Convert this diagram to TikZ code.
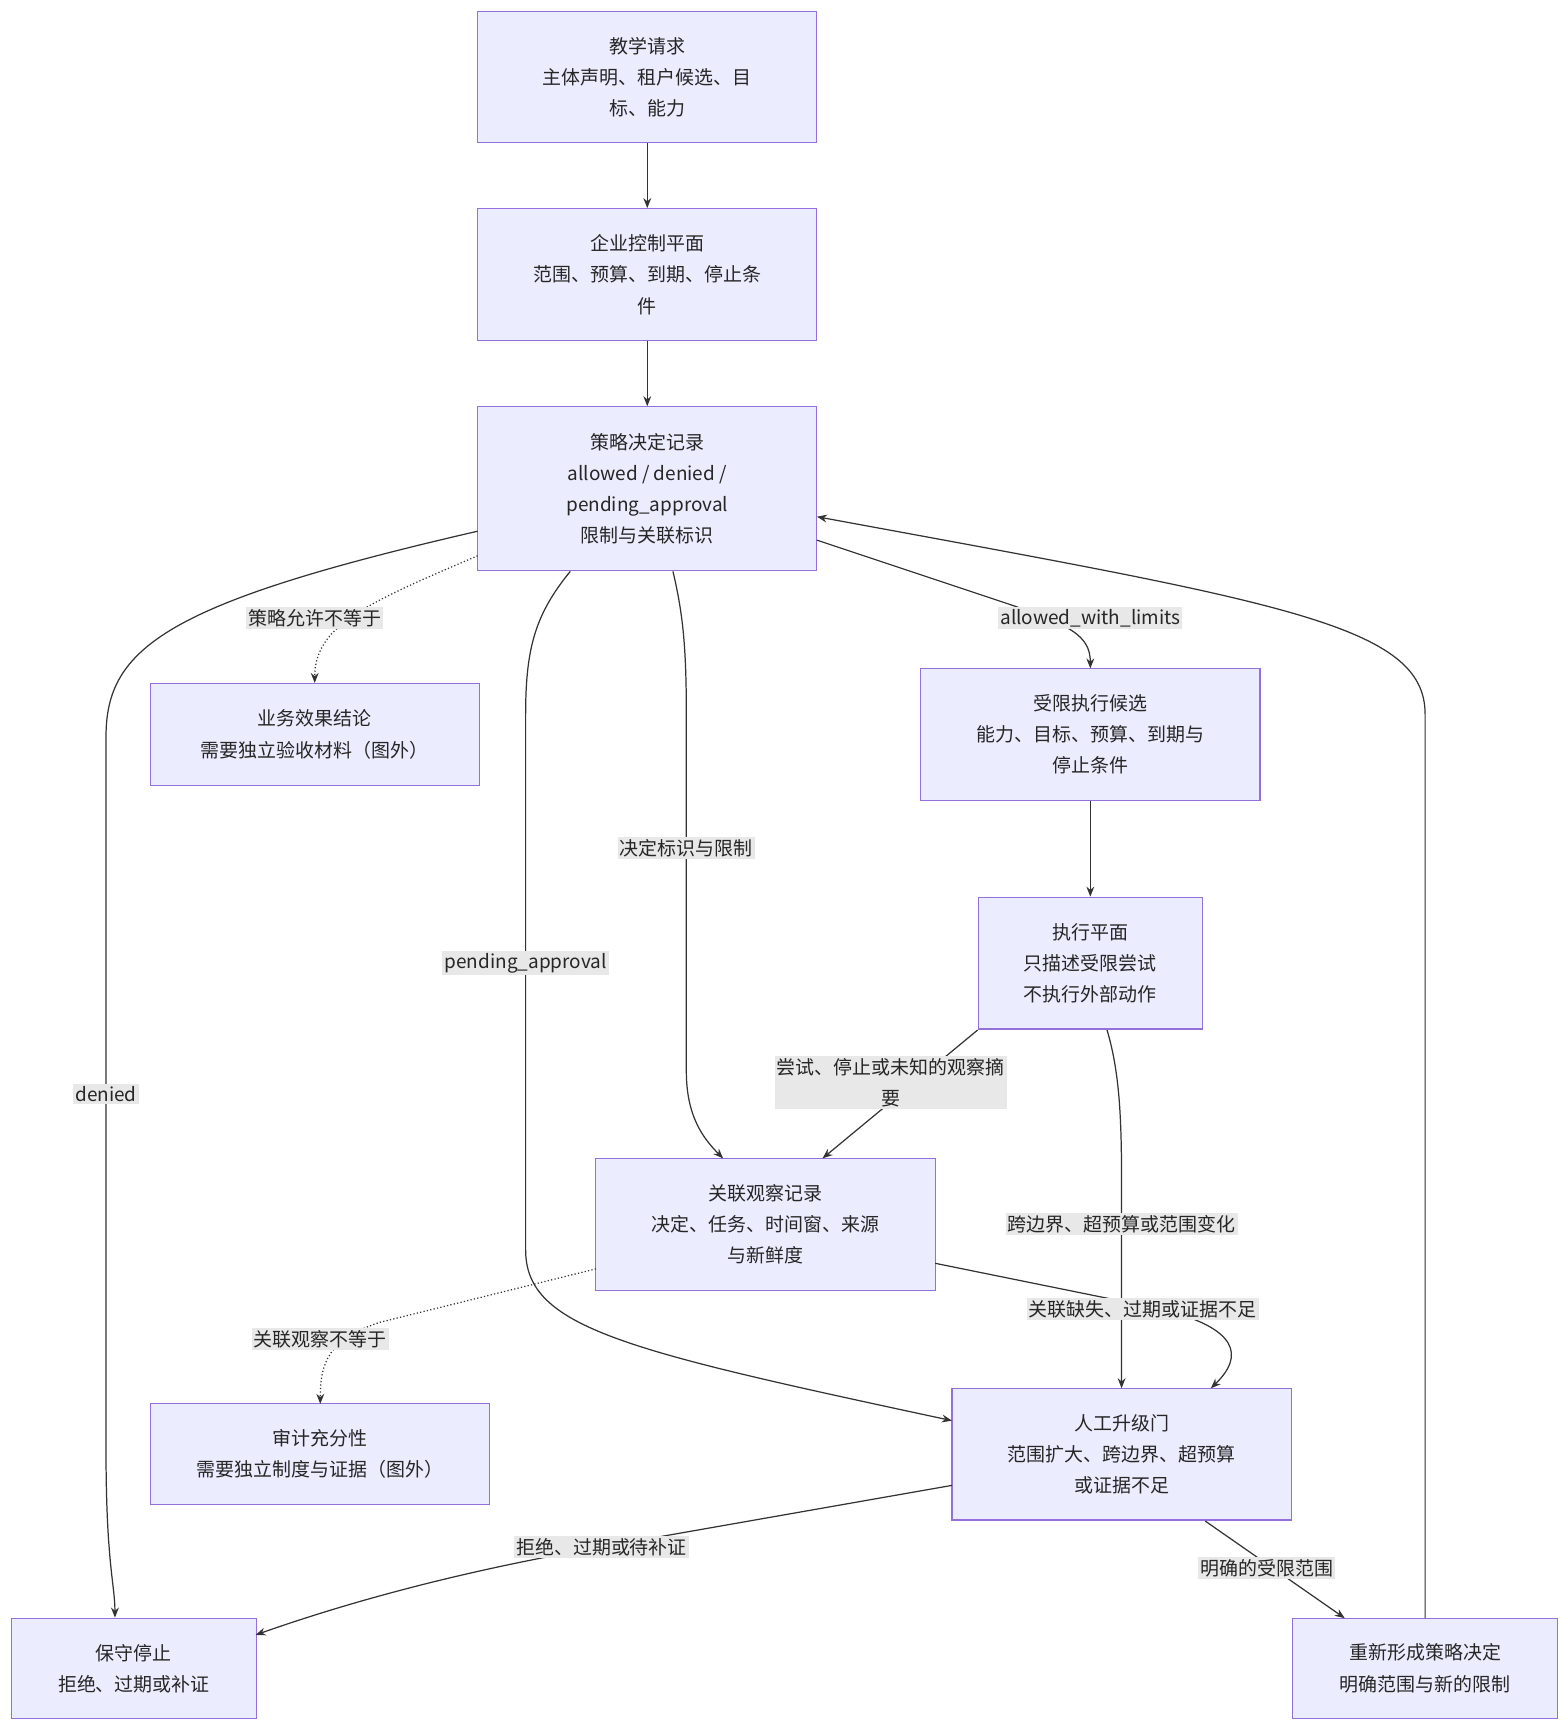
\documentclass[tikz,border=0pt]{standalone}
\usepackage{fontspec}
\setmainfont{Noto Sans CJK SC}
\usetikzlibrary{arrows.meta}
\definecolor{nfill}{HTML}{ECECFF}
\definecolor{nline}{HTML}{9370DB}
\definecolor{lbg}{HTML}{E8E8E8}
\definecolor{eline}{HTML}{333333}
\begin{document}
\begin{tikzpicture}[x=1pt,y=-1pt,
  box/.style={draw=nline,fill=nfill,line width=1pt,align=center,inner sep=0pt,
    font=\fontsize{17}{28}\selectfont,text=black!85},
  e/.style={draw=eline,line width=1.1pt,-{Stealth[length=9pt,width=7pt]}},
  d/.style={e,dotted},
  lab/.style={fill=lbg,font=\fontsize{17}{28}\selectfont,inner sep=2pt,align=center,text=black!85}]
\useasboundingbox (0,0) rectangle (1405,1552);
\def\bx#1#2#3#4#5#6{\node[box,minimum width=#4pt,minimum height=#5pt] (#1) at (#2,#3) {#6};}
\bx{req}{580}{69}{304}{118}{教学请求\\主体声明、租户候选、目\\标、能力}
\bx{cp}{580}{246}{304}{118}{企业控制平面\\范围、预算、到期、停止条\\件}
\bx{pol}{580}{438}{304}{147}{策略决定记录\\allowed / denied /\\pending\_approval\\限制与关联标识}
\bx{biz}{282}{658}{295}{91}{业务效果结论\\需要独立验收材料（图外）}
\bx{lim}{977}{658}{304}{118}{受限执行候选\\能力、目标、预算、到期与\\停止条件}
\bx{exe}{977}{863}{201}{118}{执行平面\\只描述受限尝试\\不执行外部动作}
\bx{obs}{686}{1097}{304}{118}{关联观察记录\\决定、任务、时间窗、来源\\与新鲜度}
\bx{audit}{287}{1303}{304}{91}{审计充分性\\需要独立制度与证据（图外）}
\bx{gate}{1005}{1303}{304}{118}{人工升级门\\范围扩大、跨边界、超预算\\或证据不足}
\bx{stop}{120}{1495}{219}{90}{保守停止\\拒绝、过期或补证}
\bx{reform}{1277}{1495}{238}{90}{重新形成策略决定\\明确范围与新的限制}
\path[e] (req) -- (cp);
\path[e] (cp) -- (pol);
\path[e] (428,476) .. controls (150,540) and (95,580) .. (95,660) -- (95,1300) .. controls (95,1400) and (103,1420) .. (stop.north -| 103,0);
\node[lab] at (95,980) {denied};
\path[d] (428,498) .. controls (330,540) and (282,560) .. (282,612);
\node[lab] at (282,554) {策略允许不等于};
\path[e] (511,512) .. controls (480,550) and (471,580) .. (471,640) -- (471,1120) .. controls (471,1190) and (560,1210) .. (853,1273);
\node[lab] at (471,863) {pending\_approval};
\path[e] (603,512) .. controls (612,550) and (615,580) .. (615,640) -- (615,960) .. controls (615,1000) and (630,1020) .. (648,1038);
\node[lab] at (615,760) {决定标识与限制};
\path[e] (732,484) -- (900,540) .. controls (960,560) and (977,570) .. (977,599);
\node[lab] at (977,554) {allowed\_with\_limits};
\path[e] (lim) -- (exe);
\path[e] (876,923) -- (737,1038);
\node[lab] at (798,970) {尝试、停止或未知的观察摘\\要};
\path[e] (992,923) .. controls (1003,960) and (1005,1000) .. (1005,1060) -- (1005,1244);
\node[lab] at (1005,1097) {跨边界、超预算或范围变化};
\path[e] (838,1132) -- (1040,1173) .. controls (1110,1190) and (1115,1215) .. (1085,1244);
\node[lab] at (1024,1173) {关联缺失、过期或证据不足};
\path[d] (534,1137) -- (340,1185) .. controls (295,1200) and (287,1220) .. (287,1258);
\node[lab] at (287,1200) {关联观察不等于};
\path[e] (853,1331) -- (540,1386) .. controls (400,1410) and (300,1440) .. (229,1465);
\node[lab] at (539,1386) {拒绝、过期或待补证};
\path[e] (1080,1363) -- (1205,1450);
\node[lab] at (1135,1405) {明确的受限范围};
\path[e] (1277,1450) -- (1277,640) .. controls (1277,560) and (1150,540) .. (732,463);
\end{tikzpicture}
\end{document}
